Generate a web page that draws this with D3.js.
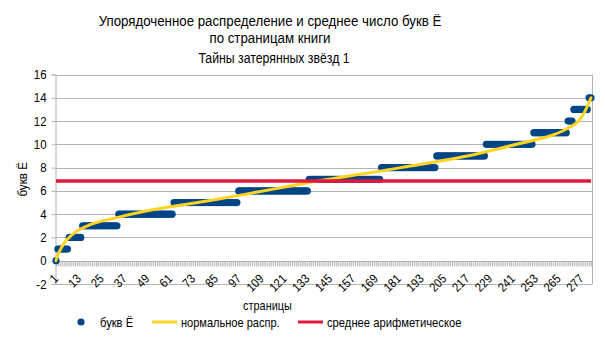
<!DOCTYPE html>
<html><head><meta charset="utf-8">
<script src="https://cdn.jsdelivr.net/npm/d3@7"></script>
<style>
html,body{margin:0;padding:0;background:#fff;}
svg text{font-family:"Liberation Sans",Arial,sans-serif;fill:#000;}
</style></head>
<body>
<svg id="chart" width="605" height="340"></svg>
<script>
// Sorted number of letters "Ё" on each page (282 pages)
const pageValues = [
 0,
 1,1,1,1,1,1,
 2,2,2,2,2,2,2,
 3,3,3,3,3,3,3,3,3,3, 3,3,3,3,3,3,3,3,3,
 4,4,4,4,4,4,4,4,4,4, 4,4,4,4,4,4,4,4,4,4, 4,4,4,4,4,4,4,4,4,
 5,5,5,5,5,5,5,5,5,5, 5,5,5,5,5,5,5,5,5,5, 5,5,5,5,5,5,5,5,5,5, 5,5,5,5,
 6,6,6,6,6,6,6,6,6,6, 6,6,6,6,6,6,6,6,6,6, 6,6,6,6,6,6,6,6,6,6, 6,6,6,6,6,6,6,
 7,7,7,7,7,7,7,7,7,7, 7,7,7,7,7,7,7,7,7,7, 7,7,7,7,7,7,7,7,7,7, 7,7,7,7,7,7,7,7,
 8,8,8,8,8,8,8,8,8,8, 8,8,8,8,8,8,8,8,8,8, 8,8,8,8,8,8,8,8,8,
 9,9,9,9,9,9,9,9,9,9, 9,9,9,9,9,9,9,9,9,9, 9,9,9,9,9,9,
 10,10,10,10,10,10,10,10,10,10, 10,10,10,10,10,10,10,10,10,10, 10,10,10,10,10,
 11,11,11,11,11,11,11,11,11,11, 11,11,11,11,11,11,11,11,
 12,12,12,
 13,13,13,13,13,13,13,13,
 14,14
];
// Fitted "normal distribution" curve, read at sample pages
const normalPages  = [1, 2, 3, 5, 7, 12, 19, 33, 51, 61, 77, 88, 130, 182, 217, 244, 253, 262, 270, 276, 279, 282];
const normalValues = [0, 0.55, 0.85, 1.45, 1.85, 2.55, 3.1, 3.7, 4.35, 4.63, 5.05, 5.35, 6.6, 8.0, 9.0, 10.05, 10.4, 10.8, 11.4, 12.1, 12.9, 14.0];
// Arithmetic mean
const meanValue = [6.85];
// Axis tick labels
const xTickLabels = [1,13,25,37,49,61,73,85,97,109,121,133,145,157,169,181,193,205,217,229,241,253,265,277];
const yTicks = [-2,0,2,4,6,8,10,12,14,16];
const titleLines = ["Упорядоченное распределение и среднее число букв Ё", "по страницам книги"];
const subtitle = "Тайны затерянных звёзд 1";
const seriesNames = ["букв Ё", "нормальное распр.", "среднее арифметическое"];
const axisTitles = {x: "страницы", y: "букв Ё"};

const colors = {dots: "#004586", normal: "#ffd320", mean: "#e0193c", grid: "#b3b3b3"};

const svg = d3.select("#chart");
const N = pageValues.length;
const pages = d3.range(1, N + 1);

const pL = 55.5, pR = 592, pT = 74.5, pB = 284;
const x = d3.scaleLinear().domain([1, N]).range([pL + 0.5, 591]);
const y = d3.scaleLinear().domain([-2, 16]).range([pB, pT]);

// condensed text helper (horizontal squeeze to mimic the narrow face)
function ntext(parent, tx, ty, str, size, anchor, k, rot) {
  return parent.append("text")
    .attr("transform", `translate(${tx},${ty})` + (rot ? ` rotate(${rot})` : "") + ` scale(${k},1)`)
    .attr("text-anchor", anchor || "start")
    .style("font-size", size + "px")
    .text(str);
}

// Titles
ntext(svg, 270, 25.8, titleLines[0], 15, "middle", 0.885);
ntext(svg, 270, 42.6, titleLines[1], 15, "middle", 0.885);
ntext(svg, 274, 63, subtitle, 14.8, "middle", 0.83);

// Gridlines
svg.append("g").selectAll("line").data(yTicks).join("line")
  .attr("x1", pL).attr("x2", pR)
  .attr("y1", d => Math.round(y(d)) + 0.5).attr("y2", d => Math.round(y(d)) + 0.5)
  .attr("stroke", colors.grid).attr("stroke-width", 1);

// Right border
svg.append("line").attr("x1", pR + 0.5).attr("x2", pR + 0.5)
  .attr("y1", pT).attr("y2", pB + 0.5).attr("stroke", colors.grid);

// Y axis
const yAxis = d3.axisLeft(y).tickValues(yTicks).tickSize(4).tickFormat(() => "");
const gy = svg.append("g").attr("transform", `translate(${pL},0)`).call(yAxis);
gy.select(".domain").attr("stroke", colors.grid);
gy.selectAll(".tick line").attr("stroke", colors.grid);
const gyl = svg.append("g");
yTicks.forEach(v => ntext(gyl, 46.5, y(v) + 4.6, String(v), 13, "end", 0.88));

// X axis at y = 0 with a tick for every page
const y0 = Math.round(y(0)) + 0.5;
const xAxisMinor = d3.axisBottom(x).tickValues(pages).tickSize(5).tickFormat("");
const gx = svg.append("g").attr("transform", `translate(0,${y0})`).call(xAxisMinor);
gx.select(".domain").attr("stroke", colors.grid).attr("d", `M${pL},0H${pR}`);
gx.selectAll(".tick line").attr("stroke", colors.grid);

// X tick labels
const gxl = svg.append("g");
xTickLabels.forEach(v => ntext(gxl, x(v) + 3, y0 + 18, String(v), 12.5, "end", 0.88, -45));

// Axis titles
ntext(svg, 267.5, 310, axisTitles.x, 13, "middle", 0.84);
ntext(svg, 26.5, (pT + pB) / 2, axisTitles.y, 13, "middle", 0.9, -90);

// Dots
svg.append("g").selectAll("circle").data(pageValues).join("circle")
  .attr("cx", (d, i) => x(pages[i])).attr("cy", d => y(d))
  .attr("r", 3.6).attr("fill", colors.dots);

// Normal curve
const normalData = normalPages.map((p, i) => [p, normalValues[i]]);
svg.append("path").datum(normalData)
  .attr("d", d3.line().x(d => x(d[0])).y(d => y(d[1])).curve(d3.curveMonotoneX))
  .attr("fill", "none").attr("stroke", colors.normal).attr("stroke-width", 3).attr("stroke-linecap", "round");

// Mean line
svg.append("path").datum([[1, meanValue[0]], [N, meanValue[0]]])
  .attr("d", d3.line().x(d => x(d[0])).y(d => y(d[1])))
  .attr("fill", "none").attr("stroke", colors.mean).attr("stroke-width", 3.4);

// Legend
const ly = 322;
const lg = svg.append("g");
lg.append("circle").attr("cx", 81).attr("cy", ly).attr("r", 3.6).attr("fill", colors.dots);
ntext(lg, 100, ly + 4.5, seriesNames[0], 13, "start", 0.86);
lg.append("line").attr("x1", 152).attr("x2", 177).attr("y1", ly).attr("y2", ly)
  .attr("stroke", colors.normal).attr("stroke-width", 3);
ntext(lg, 181, ly + 4.5, seriesNames[1], 13, "start", 0.85);
lg.append("line").attr("x1", 298).attr("x2", 323).attr("y1", ly).attr("y2", ly)
  .attr("stroke", colors.mean).attr("stroke-width", 3);
ntext(lg, 327, ly + 4.5, seriesNames[2], 13, "start", 0.865);
</script>
</body></html>
